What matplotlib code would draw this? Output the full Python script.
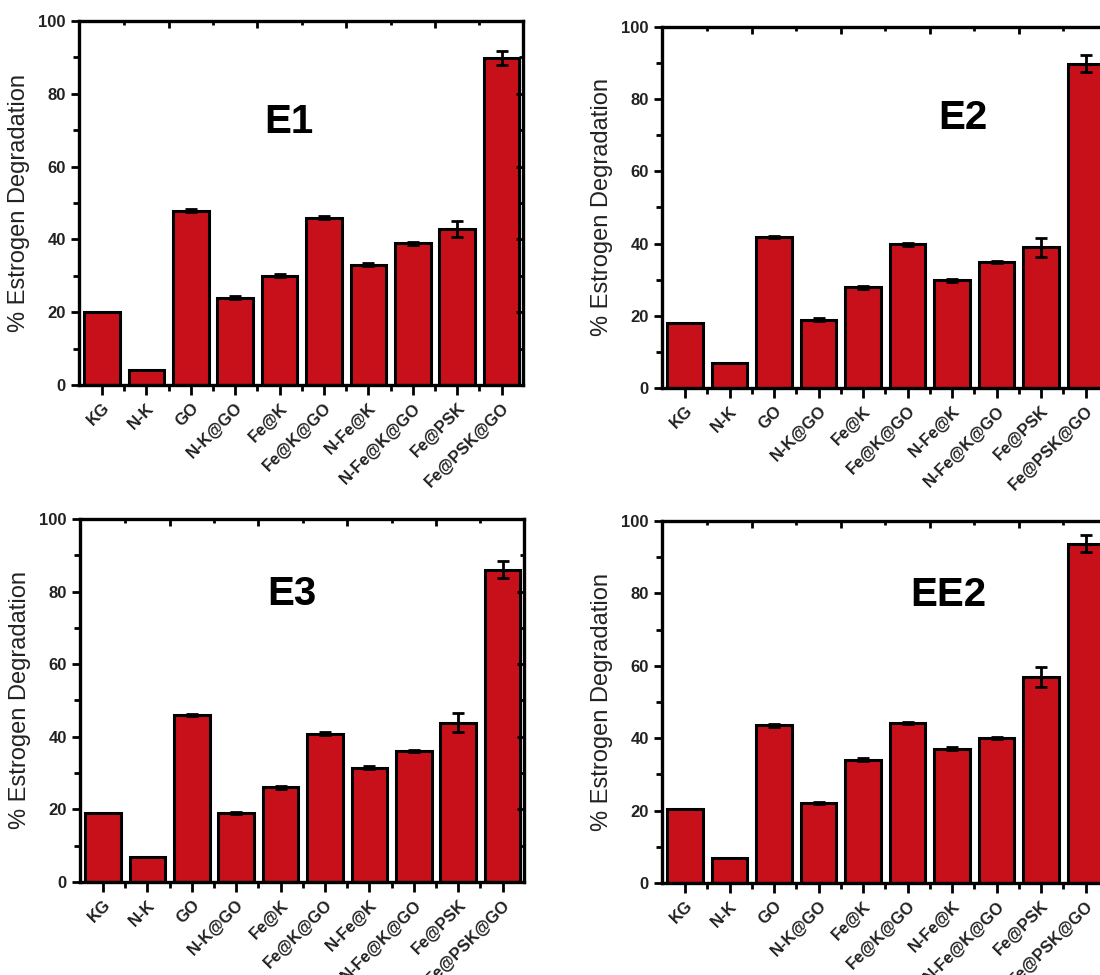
import numpy as np
import matplotlib
matplotlib.use('Agg')
import matplotlib.pyplot as plt
from matplotlib.ticker import MultipleLocator, FixedLocator

plt.rcParams['font.family'] = ['Liberation Sans', 'DejaVu Sans']

categories = ['KG', 'N-K', 'GO', 'N-K@GO', 'Fe@K', 'Fe@K@GO',
              'N-Fe@K', 'N-Fe@K@GO', 'Fe@PSK', 'Fe@PSK@GO']

e1_vals = [20.0, 4.1, 47.9, 24.0, 30.0, 46.0, 33.1, 38.9, 43.0, 89.8]
e1_errs = [0.0, 0.0, 0.4, 0.4, 0.4, 0.4, 0.4, 0.3, 2.2, 2.0]

e2_vals = [18.0, 6.9, 41.8, 18.9, 27.9, 39.8, 29.8, 34.8, 39.0, 89.8]
e2_errs = [0.0, 0.0, 0.3, 0.4, 0.4, 0.4, 0.4, 0.3, 2.6, 2.3]

e3_vals = [19.0, 7.0, 46.0, 19.0, 26.1, 40.9, 31.5, 36.1, 43.9, 86.0]
e3_errs = [0.0, 0.0, 0.3, 0.4, 0.4, 0.4, 0.4, 0.3, 2.7, 2.3]

ee2_vals = [20.3, 6.9, 43.6, 22.2, 34.1, 44.2, 37.1, 40.1, 56.8, 93.7]
ee2_errs = [0.0, 0.0, 0.4, 0.3, 0.4, 0.4, 0.4, 0.3, 2.8, 2.3]

bar_color = '#C8101A'
text_color = '#222222'


def draw_panel(ax, vals, errs, title, title_xy):
    x = np.arange(len(categories))
    ax.bar(x, vals, width=0.8, color=bar_color, edgecolor='black', linewidth=2.2, zorder=2)
    ax.errorbar(x, vals, yerr=errs, fmt='none', ecolor='black', elinewidth=2,
                capsize=4, capthick=2, zorder=3)

    ax.set_xlim(-0.52, 9.48)
    ax.set_ylim(0, 100)

    # spines
    for s in ax.spines.values():
        s.set_linewidth(2.4)

    # y axis
    ax.yaxis.set_major_locator(MultipleLocator(20))
    ax.yaxis.set_minor_locator(MultipleLocator(10))
    ax.tick_params(axis='y', which='major', direction='out', length=6, width=2,
                   labelsize=12, labelcolor=text_color)
    ax.tick_params(axis='y', which='minor', direction='out', length=4, width=2)
    for lab in ax.get_yticklabels():
        lab.set_fontweight('bold')

    # x axis
    ax.set_xticks(x)
    ax.set_xticklabels(categories, rotation=45, ha='right', rotation_mode='anchor',
                       fontsize=12, fontweight='bold', color=text_color)
    ax.xaxis.set_minor_locator(FixedLocator(x[:-1] + 0.5))
    ax.tick_params(axis='x', which='major', direction='out', length=7, width=2, pad=4)
    ax.tick_params(axis='x', which='minor', direction='out', length=4, width=2)

    # top axis ticks at the midpoints, pointing in
    top = ax.twiny()
    top.set_xlim(ax.get_xlim())
    top.xaxis.set_major_locator(FixedLocator(np.arange(1.5, 9, 2)))
    top.xaxis.set_minor_locator(FixedLocator(np.arange(0.5, 9, 2)))
    top.tick_params(axis='x', which='major', direction='in', length=5, width=2, labeltop=False)
    top.tick_params(axis='x', which='minor', direction='in', length=3, width=2)
    for s in top.spines.values():
        s.set_visible(False)

    # right side ticks pointing in
    right = ax.twinx()
    right.set_ylim(0, 100)
    right.yaxis.set_major_locator(MultipleLocator(20))
    right.yaxis.set_minor_locator(MultipleLocator(10))
    right.tick_params(axis='y', which='major', direction='in', length=5, width=2, labelright=False)
    right.tick_params(axis='y', which='minor', direction='in', length=3, width=2)
    for s in right.spines.values():
        s.set_visible(False)

    ax.set_ylabel('% Estrogen Degradation', fontsize=17, color=text_color, labelpad=6)
    ax.text(title_xy[0], title_xy[1], title, transform=ax.transAxes, ha='center', va='center',
            fontsize=29, fontweight='bold', color='black')


fig = plt.figure(figsize=(11, 9.75), dpi=100)

ax1 = fig.add_axes([0.0718, 0.6051, 0.4036, 0.3733])
ax2 = fig.add_axes([0.6018, 0.6021, 0.4045, 0.3703])
ax3 = fig.add_axes([0.0727, 0.0954, 0.4036, 0.3723])
ax4 = fig.add_axes([0.6018, 0.0944, 0.4045, 0.3713])

draw_panel(ax1, e1_vals, e1_errs, 'E1', (0.473, 0.724))
draw_panel(ax2, e2_vals, e2_errs, 'E2', (0.676, 0.748))
draw_panel(ax3, e3_vals, e3_errs, 'E3', (0.477, 0.793))
draw_panel(ax4, ee2_vals, ee2_errs, 'EE2', (0.643, 0.796))

fig.savefig('out.png', dpi=100)
